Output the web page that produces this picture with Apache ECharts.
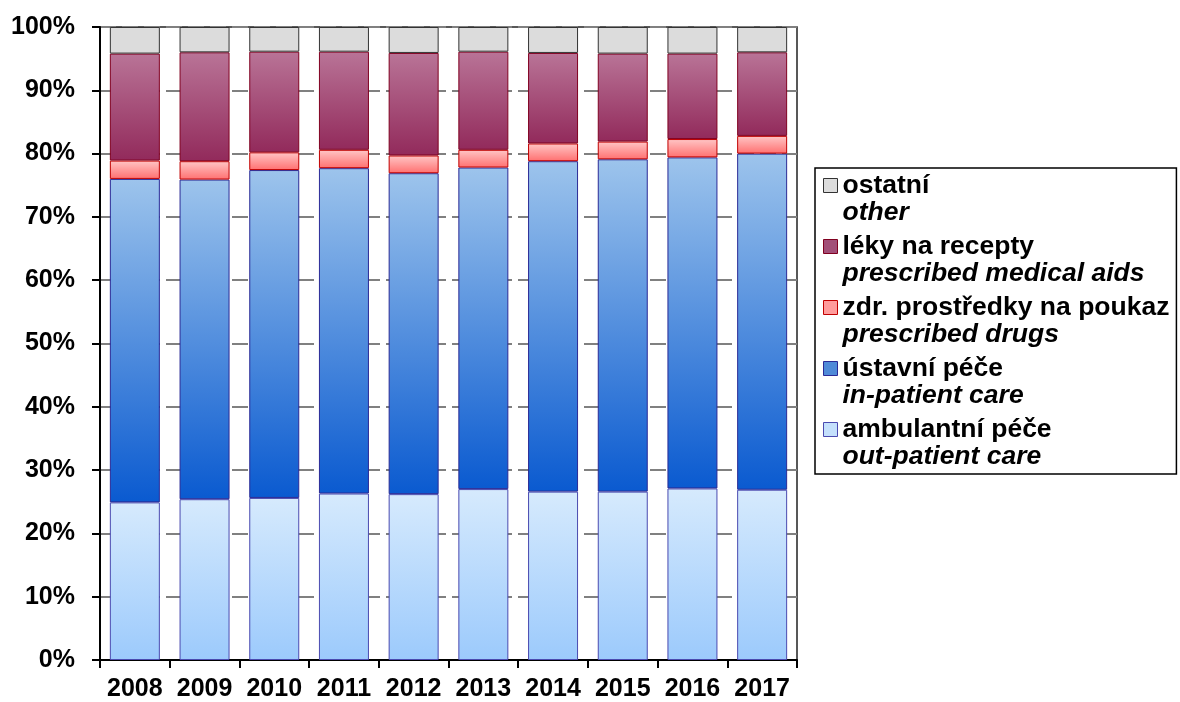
<!DOCTYPE html>
<html>
<head>
<meta charset="utf-8">
<script src="https://cdn.jsdelivr.net/npm/echarts@6/dist/echarts.min.js"></script>
<style>
html,body{margin:0;padding:0;background:#fff;}
#chart{width:1180px;height:702px;}
</style>
</head>
<body>
<div id="chart"></div>
<script>
const years = ['2008','2009','2010','2011','2012','2013','2014','2015','2016','2017'];
const outPatient = [24.9, 25.4, 25.6, 26.3, 26.2, 27.0, 26.6, 26.6, 27.1, 26.9];
const inPatient  = [51.1, 50.5, 51.8, 51.4, 50.7, 50.8, 52.2, 52.5, 52.3, 53.1];
const devices    = [2.9, 2.9, 2.8, 2.9, 2.8, 2.8, 2.8, 2.8, 2.9, 2.8];
const drugs      = [16.9, 17.2, 15.9, 15.5, 16.2, 15.5, 14.3, 13.9, 13.5, 13.2];
const other      = [4.2, 4.0, 3.9, 3.9, 4.1, 3.9, 4.1, 4.2, 4.2, 4.0];

const namesCz = ['ambulantní péče', 'ústavní péče', 'zdr. prostředky na poukaz', 'léky na recepty', 'ostatní'];
const namesEn = ['out-patient care', 'in-patient care', 'prescribed drugs', 'prescribed medical aids', 'other'];

const FONT = '"Liberation Sans", Arial, sans-serif';
const grad = (top, bottom) => new echarts.graphic.LinearGradient(0, 0, 0, 1, [
  {offset: 0, color: top}, {offset: 1, color: bottom}
]);

const styles = [
  {fill: grad('#d6eafd', '#9ccafc'), border: '#4a4ab0', legend: '#c4e0fc'},
  {fill: grad('#9dc4ec', '#0a5ad0'), border: '#2a2a96', legend: '#4f8ad8'},
  {fill: grad('#ffc6c6', '#ff7070'), border: '#c00000', legend: '#ff9c9c'},
  {fill: grad('#b97497', '#922a5b'), border: '#800020', legend: '#a24f78'},
  {fill: '#dcdcdc', border: '#333333', legend: '#dcdcdc'}
];
const values = [outPatient, inPatient, devices, drugs, other];

const iconPath = 'path://M0,0M0,6L14,6L14,20L0,20ZM14,53';

const series = values.map((v, i) => ({
  name: namesCz[i],
  type: 'bar',
  stack: 'total',
  barWidth: 50,
  data: v,
  itemStyle: {color: styles[i].fill, borderColor: styles[i].border, borderWidth: 1},
  emphasis: {disabled: true}
}));

const legendData = [4, 3, 2, 1, 0].map(i => ({
  name: namesCz[i],
  icon: iconPath,
  itemStyle: {color: styles[i].legend, borderColor: styles[i].border, borderWidth: 1}
}));

const chart = echarts.init(document.getElementById('chart'), null, {renderer: 'canvas'});
chart.setOption({
  animation: false,
  backgroundColor: '#fff',
  grid: {left: 100, right: 383, top: 27, bottom: 42, show: true, borderColor: '#222', borderWidth: 1.5},
  legend: {
    orient: 'vertical',
    left: 815,
    top: 168,
    padding: [4, 7, 4, 8],
    itemWidth: 14,
    itemHeight: 53,
    itemGap: 7,
    selectedMode: false,
    borderColor: '#000',
    borderWidth: 1.5,
    backgroundColor: '#fff',
    data: legendData,
    formatter: name => '{a|' + name + '}\n{b|' + namesEn[namesCz.indexOf(name)] + '}',
    textStyle: {
      color: '#000',
      fontFamily: FONT,
      rich: {
        a: {fontSize: 26.5, fontWeight: 'bold', lineHeight: 26.5, fontFamily: FONT, color: '#000'},
        b: {fontSize: 26.5, fontWeight: 'bold', fontStyle: 'italic', lineHeight: 26.5, fontFamily: FONT, color: '#000'}
      }
    }
  },
  xAxis: {
    type: 'category',
    data: years,
    axisLine: {lineStyle: {color: '#000', width: 2}},
    axisTick: {show: true, interval: 0, length: 8, lineStyle: {color: '#000', width: 2}},
    axisLabel: {color: '#000', fontFamily: FONT, fontSize: 25, fontWeight: 'bold', margin: 17, interval: 0}
  },
  yAxis: {
    type: 'value',
    min: 0,
    max: 100,
    interval: 10,
    axisLine: {show: true, lineStyle: {color: '#000', width: 2}},
    axisTick: {show: true, length: 8, lineStyle: {color: '#000', width: 2}},
    axisLabel: {color: '#000', fontFamily: FONT, fontSize: 25, fontWeight: 'bold', margin: 25, formatter: '{value}%'},
    splitLine: {show: true, lineStyle: {color: '#808080', width: 2, type: [16, 6]}}
  },
  series: series
});
</script>
</body>
</html>
